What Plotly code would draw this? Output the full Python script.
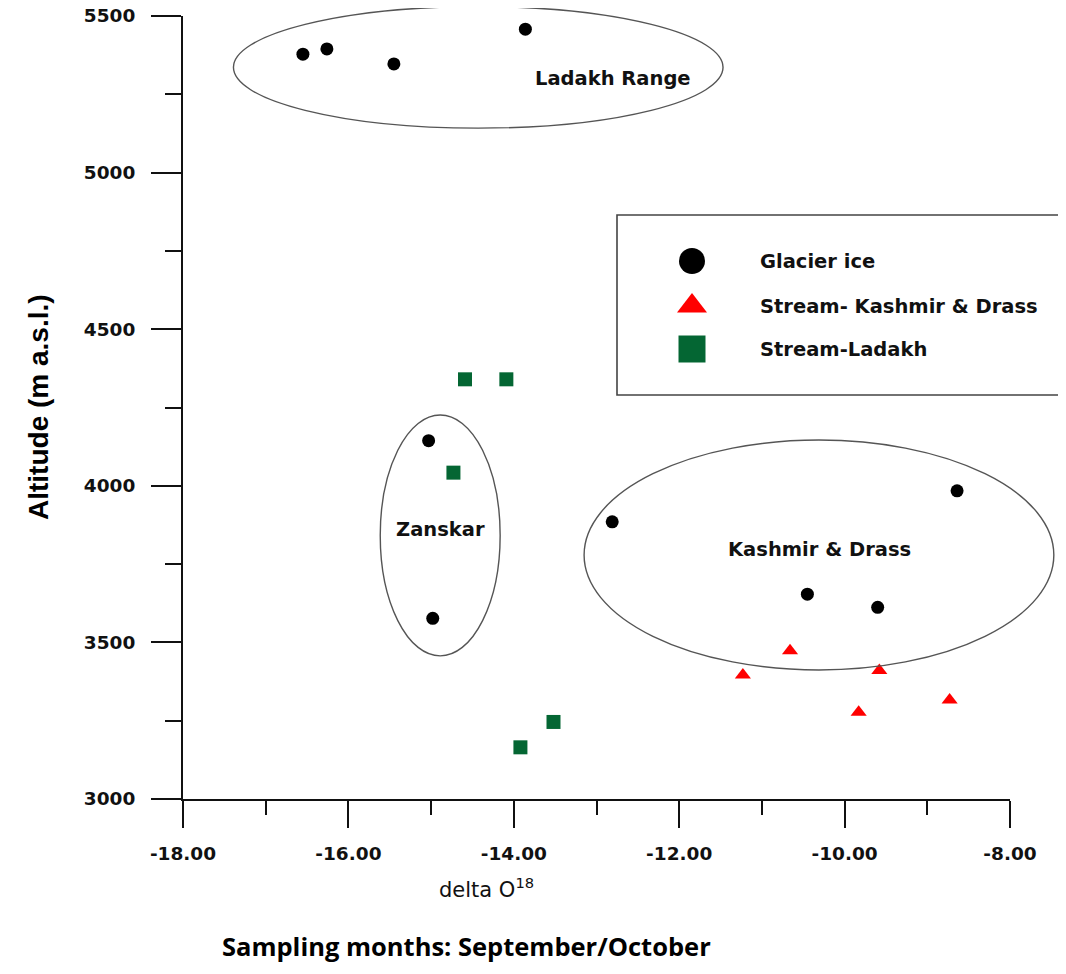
import plotly.graph_objects as go

# ---------------- data ----------------
series_names = ["Glacier ice", "Stream- Kashmir & Drass", "Stream-Ladakh"]

glacier_x = [-16.55, -16.26, -15.45, -13.86, -15.03, -14.98, -12.81, -8.64, -10.45, -9.60]
glacier_y = [5378, 5395, 5347, 5458, 4144, 3577, 3885, 3984, 3654, 3612]

kashmir_x = [-11.23, -10.66, -9.58, -9.83, -8.73]
kashmir_y = [3396, 3473, 3410, 3277, 3316]

ladakh_x = [-14.59, -14.09, -14.73, -13.52, -13.92]
ladakh_y = [4340, 4340, 4042, 3246, 3165]

x_tick_vals = [-18, -16, -14, -12, -10, -8]
x_tick_labels = ["-18.00", "-16.00", "-14.00", "-12.00", "-10.00", "-8.00"]
y_tick_vals = [3000, 3500, 4000, 4500, 5000, 5500]
y_tick_labels = ["3000", "3500", "4000", "4500", "5000", "5500"]

# region ellipses (data units): x0, x1, y0, y1 and label positions
region_names = ["Ladakh Range", "Zanskar", "Kashmir & Drass"]
region_x0 = [-17.39, -15.615, -13.15]
region_x1 = [-11.47, -14.165, -7.47]
region_y0 = [5142, 3457, 3412]
region_y1 = [5530, 4226, 4146]
region_label_x = [-12.80, -14.89, -10.30]
region_label_y = [5302, 3862, 3798]

X_RANGE = [-18, -8]
Y_RANGE = [3000, 5500]

# ---------------- layout constants ----------------
W, H = 1066, 974
PAGE_OFFSET = 8                      # body margin of the html page
PL, PT, PR, PB = 183, 16, 1010, 799  # wanted plot area on screen (px)
ML = PL - PAGE_OFFSET
MT = PT - PAGE_OFFSET
MR = W - PR + PAGE_OFFSET
MB = H - PB + PAGE_OFFSET
PW, PH = PR - PL, PB - PT

def px2paper_x(px):
    return (px - PL) / PW

def px2paper_y(py):
    return (PB - py) / PH

def dx2paper(x):
    return (x - X_RANGE[0]) / (X_RANGE[1] - X_RANGE[0])

def dy2paper(y):
    return (y - Y_RANGE[0]) / (Y_RANGE[1] - Y_RANGE[0])

colors = ["#000000", "#FF0000", "#046633"]
symbols = ["circle", "triangle-up", "square"]
sizes = [13, 14, 14]
legend_sizes = [26, 26, 27]

LABEL_FONT = dict(family="DejaVu Sans", size=19.5, color="#111111", weight="bold")

fig = go.Figure()

series_x = [glacier_x, kashmir_x, ladakh_x]
series_y = [glacier_y, kashmir_y, ladakh_y]
for name, xs, ys, c, s, sz in zip(series_names, series_x, series_y, colors, symbols, sizes):
    fig.add_trace(go.Scatter(
        x=xs, y=ys, mode="markers", name=name, showlegend=False,
        marker=dict(color=c, symbol=s, size=sz, line=dict(width=0)),
        cliponaxis=False,
    ))

# custom legend (large keys) on an invisible overlay axis in paper-like units
legend_key_x = px2paper_x(692)
legend_text_x = px2paper_x(758)
legend_rows_y = [px2paper_y(261), px2paper_y(306), px2paper_y(349)]
for name, c, s, sz, ry in zip(series_names, colors, symbols, legend_sizes, legend_rows_y):
    fig.add_trace(go.Scatter(
        x=[legend_key_x], y=[ry], xaxis="x2", yaxis="y2", mode="markers",
        showlegend=False, hoverinfo="skip",
        marker=dict(color=c, symbol=s, size=sz, line=dict(width=0)),
        cliponaxis=False,
    ))

shapes = []
annotations = []

# region ellipses
for x0, x1, y0, y1 in zip(region_x0, region_x1, region_y0, region_y1):
    shapes.append(dict(
        type="circle", xref="paper", yref="paper",
        x0=dx2paper(x0), x1=dx2paper(x1), y0=dy2paper(y0), y1=dy2paper(y1),
        line=dict(color="#555555", width=1.4),
    ))
for name, lx, ly in zip(region_names, region_label_x, region_label_y):
    annotations.append(dict(
        x=lx, y=ly, xref="x", yref="y", text=name, showarrow=False,
        xanchor="center", yanchor="middle", font=LABEL_FONT,
    ))

# legend box
shapes.append(dict(
    type="rect", xref="paper", yref="paper",
    x0=px2paper_x(617), x1=px2paper_x(1085), y0=px2paper_y(395), y1=px2paper_y(215),
    line=dict(color="#444444", width=1.6), fillcolor="rgba(0,0,0,0)",
))
for name, ry in zip(series_names, legend_rows_y):
    annotations.append(dict(
        x=legend_text_x, y=ry, xref="paper", yref="paper", text=name,
        showarrow=False, xanchor="left", yanchor="middle", font=LABEL_FONT,
    ))

# axis titles and caption
annotations.append(dict(
    x=px2paper_x(38), y=px2paper_y(407), xref="paper", yref="paper",
    text="Altitude (m a.s.l.)", textangle=-90, showarrow=False,
    xanchor="center", yanchor="middle",
    font=dict(family="Liberation Sans", size=28, color="#000000", weight="bold"),
))
annotations.append(dict(
    x=px2paper_x(486), y=px2paper_y(888), xref="paper", yref="paper",
    text="delta O<sup>18</sup>", showarrow=False,
    xanchor="center", yanchor="middle",
    font=dict(family="DejaVu Sans", size=21, color="#111111"),
))
annotations.append(dict(
    x=px2paper_x(466), y=px2paper_y(946), xref="paper", yref="paper",
    text="Sampling months: September/October", showarrow=False,
    xanchor="center", yanchor="middle",
    font=dict(family="Open Sans", size=25.5, color="#000000", weight="bold"),
))

axis_common = dict(
    showgrid=False, zeroline=False, showline=True, linecolor="#111111", linewidth=2,
    ticks="outside", tickcolor="#111111", tickwidth=2, automargin=False,
    ticklabeloverflow="allow",
    tickfont=dict(family="DejaVu Sans", size=18.5, color="#111111", weight="bold"),
    mirror=False,
)

fig.update_layout(
    width=W, height=H,
    margin=dict(l=ML, r=MR, t=MT, b=MB, pad=0, autoexpand=False),
    plot_bgcolor="white", paper_bgcolor="white",
    showlegend=False,
    xaxis=dict(
        range=X_RANGE, tickvals=x_tick_vals, ticktext=x_tick_labels, ticklen=27,
        ticklabelstandoff=10,
        minor=dict(dtick=1, ticklen=14, tickwidth=2, tickcolor="#111111", ticks="outside"),
        **axis_common,
    ),
    yaxis=dict(
        range=Y_RANGE, tickvals=y_tick_vals, ticktext=y_tick_labels, ticklen=30,
        ticklabelstandoff=12,
        minor=dict(dtick=250, ticklen=16, tickwidth=2, tickcolor="#111111", ticks="outside"),
        **axis_common,
    ),
    xaxis2=dict(overlaying="x", range=[0, 1], visible=False, fixedrange=True),
    yaxis2=dict(overlaying="y", range=[0, 1], visible=False, fixedrange=True),
    shapes=shapes,
    annotations=annotations,
)

fig.write_html("out.html")
